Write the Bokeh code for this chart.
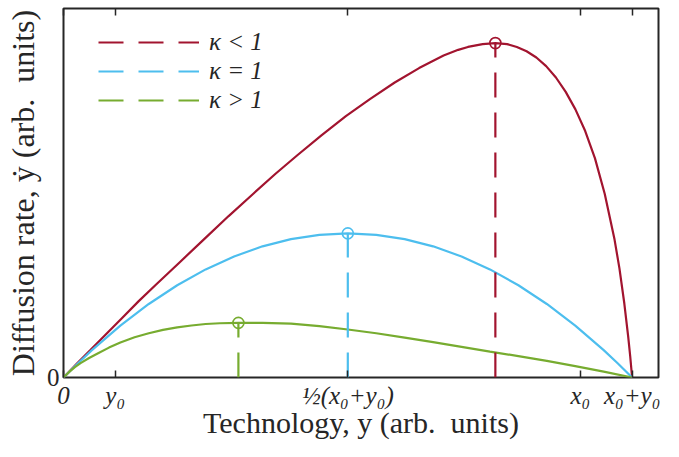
from bokeh.plotting import figure
from bokeh.models import Range1d, FixedTicker, LinearAxis, Legend, LegendItem
from bokeh.embed import file_html
from bokeh.resources import INLINE

# ---------------- data (arbitrary units, x0 + y0 = 1) ----------------
y0_val = 0.091
x0_val = 0.909
xtick_vals = [0.0, y0_val, 0.5 * (x0_val + y0_val), x0_val, x0_val + y0_val]
xtick_text = ["0", "y₀", "½(x₀+y₀)", "x₀", "x₀+y₀"]

x_red = [0, .0241, .0464, .0756, .1031, .1323, .1615, .2045, .2474, .2904, .3333,
         .3729, .4107, .4536, .4966, .5395, .5825, .6254, .6684, .6942, .7113,
         .7371, .7595, .7801, .7973, .8144, .8316, .8488, .8660, .8832, .9003,
         .9175, .9347, .9519, .9691, .9777, .9863, .9931, .9966, 1.0]
y_red = [0, .0383, .0729, .1185, .1615, .2070, .2500, .3125, .3750, .4375, .4974,
         .5521, .6016, .6563, .7083, .7552, .7995, .8385, .8724, .8880, .8958,
         .9036, .9063, .9036, .8958, .8841, .8672, .8438, .8130, .7740, .7266,
         .6680, .5938, .4974, .3737, .2958, .2005, .1109, .0583, 0]

x_blue = [0, .025, .05, .1, .15, .2, .25, .3, .35, .4, .45, .5,
          .55, .6, .65, .7, .75, .8, .85, .9, .95, .975, 1.0]
y_blue = [0, .0381, .0742, .1406, .1992, .2500, .2930, .3281, .3555, .3750, .3867, .3906,
          .3867, .3750, .3555, .3281, .2930, .2500, .1992, .1406, .0742, .0381, 0]

x_green = [0, .01, .02, .03, .045, .06, .08, .10, .125, .15, .175, .2, .225, .25,
           .275, .3076, .35, .4, .45, .5, .55, .6, .65, .7, .75, .8, .85, .9, .95, 1.0]
y_green = [0, .015, .028, .039, .053, .065, .081, .095, .109, .120, .129, .136, .141, .145,
           .147, .148, .148, .146, .139, .130, .120, .108, .096, .083, .070, .058, .045,
           .031, .016, 0]

peak_x = [.7595, .5, .3076]
peak_y = [.9063, .3906, .148]

series_labels = ["κ < 1", "κ = 1", "κ > 1"]
series_colors = ["#A2142F", "#4DBEEE", "#77AC30"]
curves = [(x_red, y_red), (x_blue, y_blue), (x_green, y_green)]

TXT = "#262626"
FONT = "Liberation Serif"

p = figure(width=663, height=441, output_backend="svg", toolbar_location=None,
           x_range=Range1d(0, 1.0464), y_range=Range1d(0, 1.0),
           x_axis_type=None, y_axis_type=None,
           min_border_left=63, min_border_right=5, min_border_top=8, min_border_bottom=57)
p.xgrid.visible = False
p.ygrid.visible = False
p.outline_line_color = TXT
p.outline_line_width = 2
p.background_fill_color = "white"
p.border_fill_color = "white"

# bottom axis: ticks inside, tick labels and title
xb = LinearAxis(ticker=FixedTicker(ticks=xtick_vals),
                major_label_overrides={v: t for v, t in zip(xtick_vals, xtick_text)},
                major_tick_in=7, major_tick_out=0,
                major_tick_line_color=TXT, major_tick_line_width=1.5,
                minor_tick_line_color=None, axis_line_color=None,
                major_label_text_font=FONT, major_label_text_font_style="italic",
                major_label_text_font_size="25px", major_label_text_color=TXT,
                major_label_standoff=4,
                axis_label="Technology, y (arb.\u00a0 units)",
                axis_label_text_font=FONT, axis_label_text_font_style="normal",
                axis_label_text_font_size="30px", axis_label_text_color=TXT,
                axis_label_standoff=-6)
p.add_layout(xb, "below")

# top axis: mirrored ticks only
xa = LinearAxis(ticker=FixedTicker(ticks=xtick_vals),
                major_label_overrides={v: "" for v in xtick_vals},
                major_tick_in=7, major_tick_out=0,
                major_tick_line_color=TXT, major_tick_line_width=1.5,
                minor_tick_line_color=None, axis_line_color=None,
                major_label_text_font_size="1px", major_label_text_color=None,
                major_label_standoff=0)
p.add_layout(xa, "above")

yax = LinearAxis(ticker=FixedTicker(ticks=[0]), major_tick_in=0, major_tick_out=0,
                 minor_tick_line_color=None, axis_line_color=None,
                 major_label_text_font=FONT, major_label_text_font_size="25px",
                 major_label_text_color=TXT, major_label_standoff=4,
                 axis_label="Diffusion rate, ẏ (arb.\u00a0 units)",
                 axis_label_text_font=FONT, axis_label_text_font_style="normal",
                 axis_label_text_font_size="32px", axis_label_text_color=TXT,
                 axis_label_standoff=3)
p.add_layout(yax, "left")

# curves
for (xs, ys), c in zip(curves, series_colors):
    p.line(xs, ys, line_color=c, line_width=2.2)

# dashed drop lines from the axis up to each maximum (also the legend glyphs)
drop_renderers = []
for xp, yp, c in zip(peak_x, peak_y, series_colors):
    r = p.line([xp, xp], [0, yp], line_color=c, line_width=2.2, line_dash="25 15")
    drop_renderers.append(r)

p.scatter(peak_x, peak_y, marker="circle", size=11, fill_color=None,
          line_color=series_colors, line_width=1.6)

legend = Legend(items=[LegendItem(label=l, renderers=[r]) for l, r in zip(series_labels, drop_renderers)],
                location=(35, 263), glyph_width=101, glyph_height=26, label_height=26,
                spacing=1, label_standoff=10, padding=0, margin=0,
                border_line_color=None, background_fill_alpha=0,
                label_text_font=FONT, label_text_font_style="italic",
                label_text_font_size="25px", label_text_color=TXT)
p.add_layout(legend)

open("out.html", "w").write(file_html(p, INLINE))
